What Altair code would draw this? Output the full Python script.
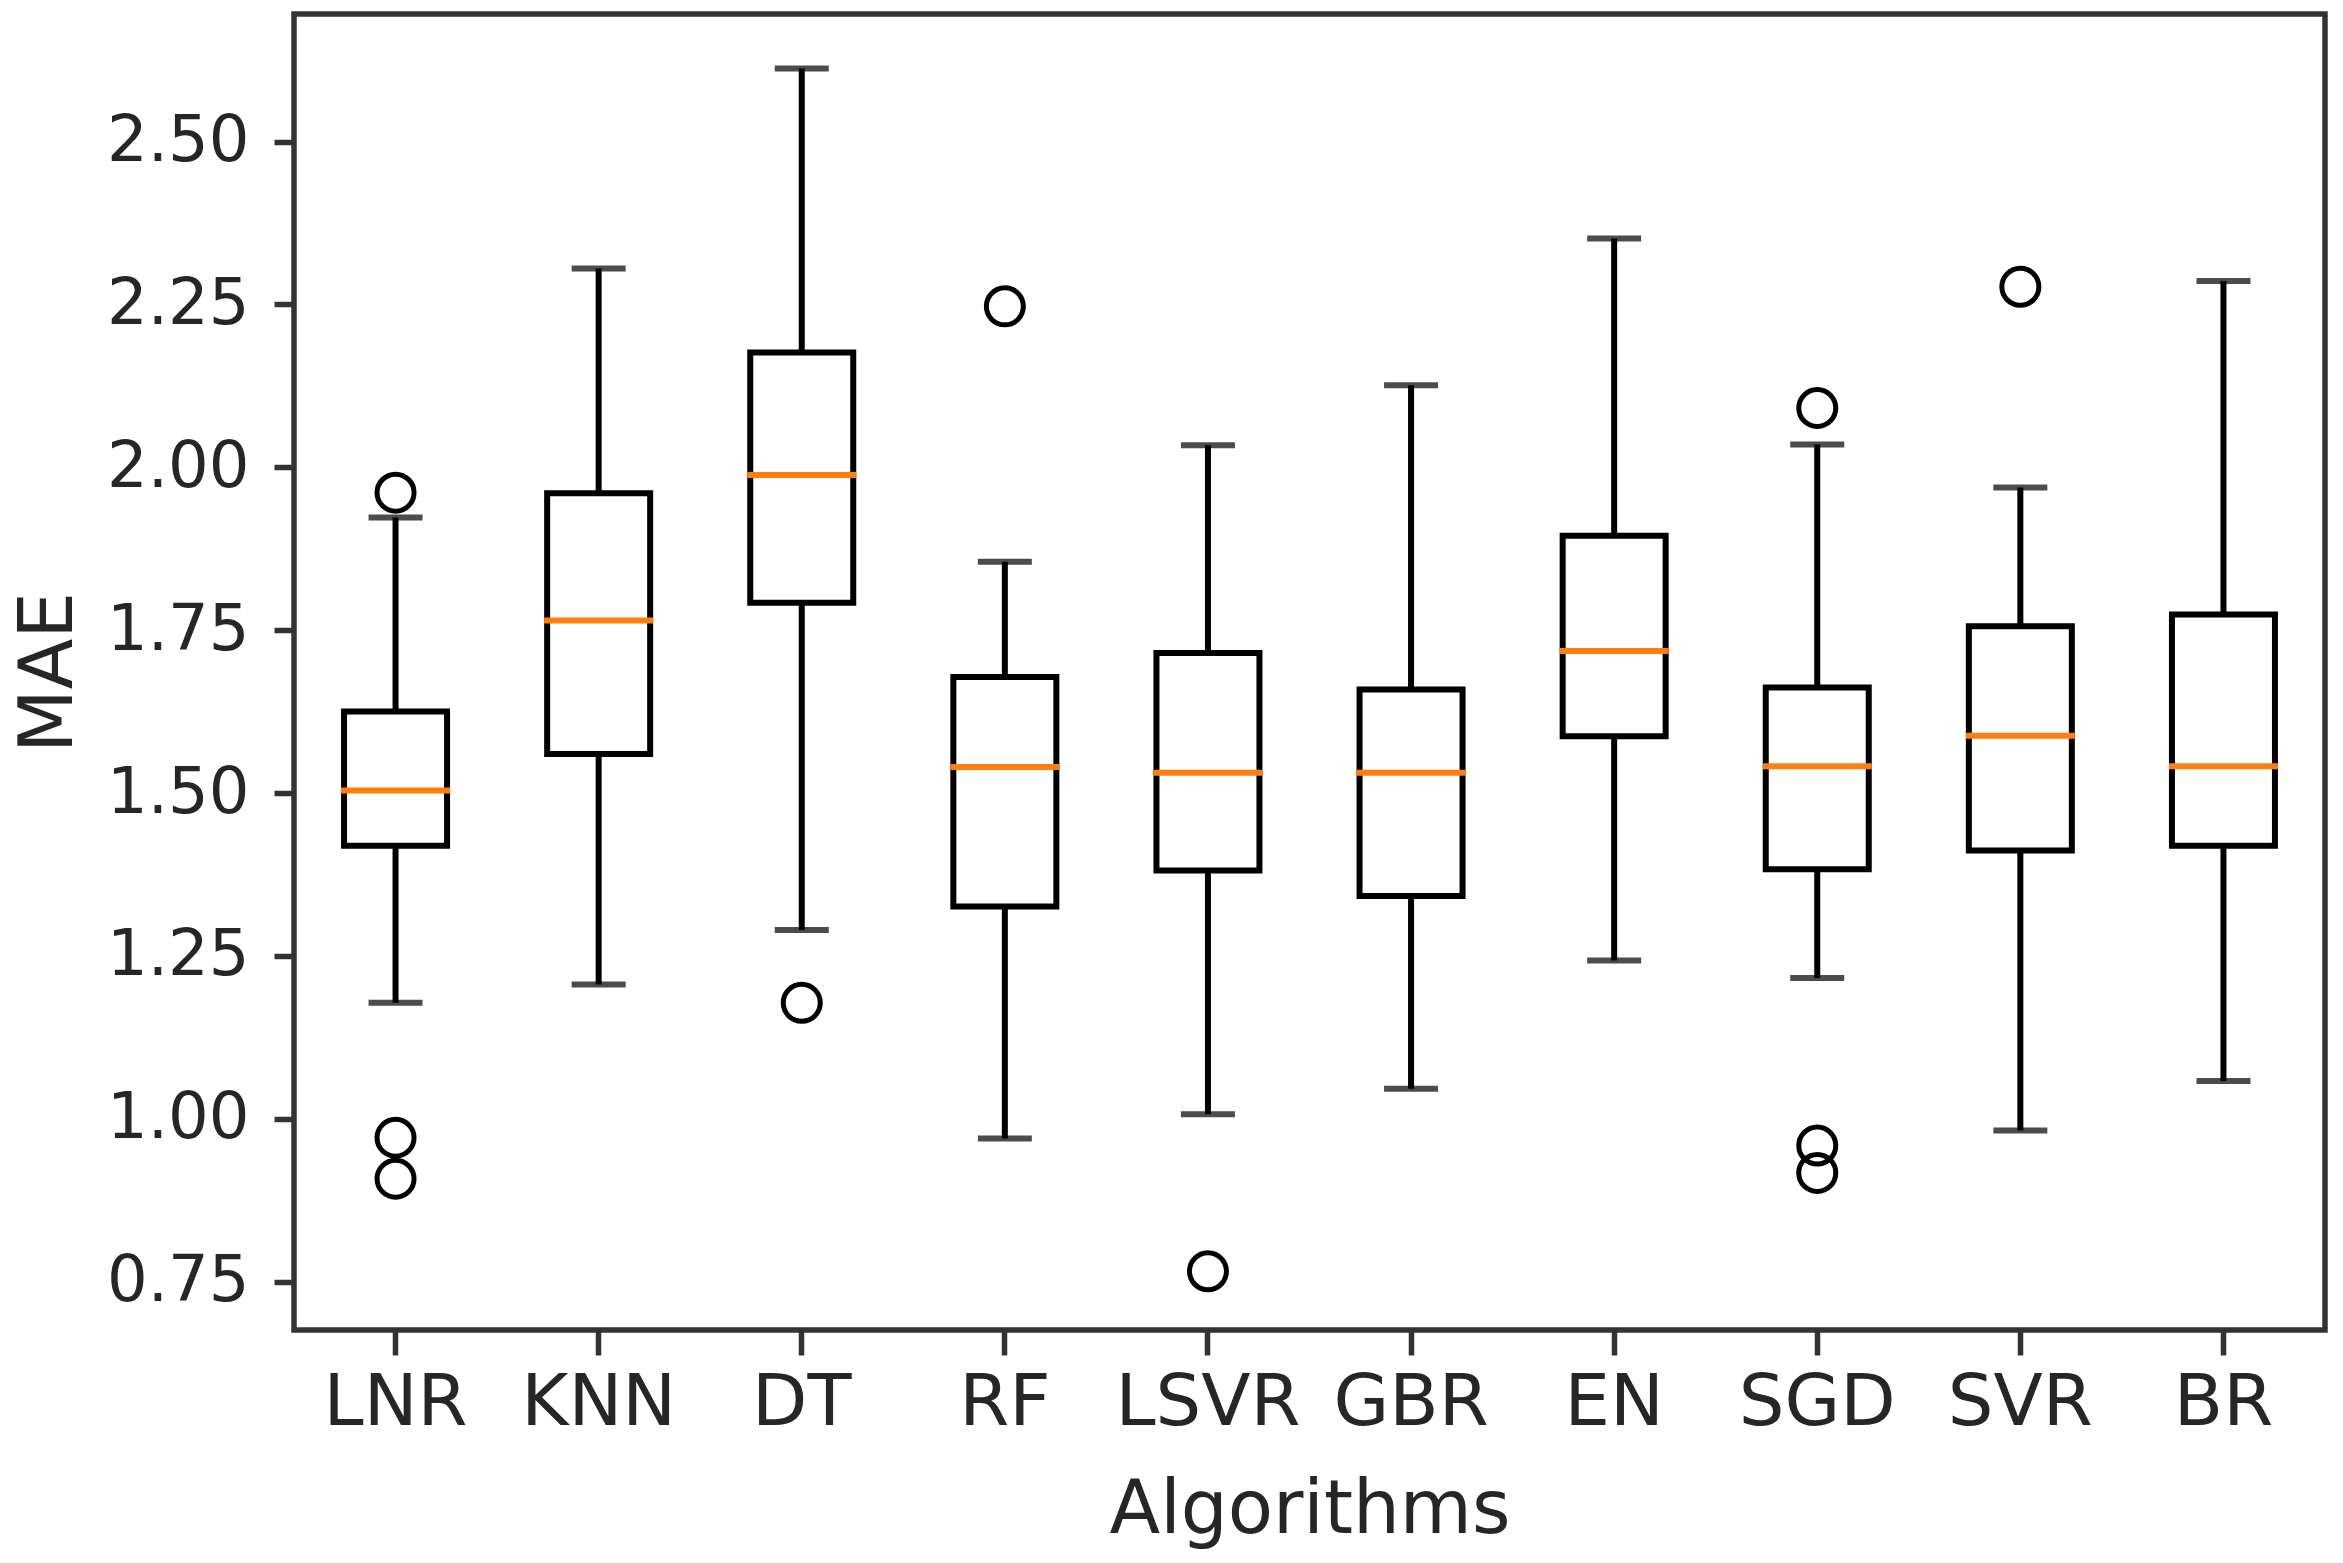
import altair as alt
import pandas as pd

names = ["LNR", "KNN", "DT", "RF", "LSVR", "GBR", "EN", "SGD", "SVR", "BR"]
whisker_low = [1.178, 1.206, 1.290, 0.970, 1.007, 1.046, 1.243, 1.216, 0.982, 1.058]
q1 = [1.419, 1.560, 1.792, 1.326, 1.381, 1.342, 1.587, 1.383, 1.412, 1.419]
median = [1.504, 1.765, 1.988, 1.540, 1.531, 1.531, 1.718, 1.541, 1.588, 1.541]
q3 = [1.625, 1.960, 2.176, 1.678, 1.715, 1.659, 1.895, 1.662, 1.756, 1.774]
whisker_high = [1.923, 2.305, 2.612, 1.855, 2.034, 2.126, 2.351, 2.035, 1.969, 2.286]

outlier_names = ["LNR", "LNR", "LNR", "DT", "RF", "LSVR", "SGD", "SGD", "SGD", "SVR"]
outlier_values = [1.961, 0.971, 0.908, 1.178, 2.247, 0.766, 2.091, 0.959, 0.917, 2.277]

y_ticks = [0.75, 1.00, 1.25, 1.50, 1.75, 2.00, 2.25, 2.50]

stats = pd.DataFrame({
    "alg": names, "lo": whisker_low, "q1": q1, "med": median,
    "q3": q3, "hi": whisker_high,
})
outs = pd.DataFrame({"alg": outlier_names, "val": outlier_values})

FONT = "DejaVu Sans"
TXT = "#262626"
AX = "#333333"

x_enc = alt.X(
    "alg:N",
    sort=names,
    scale=alt.Scale(type="band", domain=names, paddingInner=0, paddingOuter=0),
    axis=alt.Axis(
        title="Algorithms", labelAngle=0, labelFontSize=72, titleFontSize=74,
        labelFont=FONT, titleFont=FONT, labelColor=TXT, titleColor=TXT,
        titleFontWeight="normal", tickSize=25, tickWidth=5.5, tickColor=AX,
        labelPadding=12, titlePadding=36, domain=False, grid=False, labelLimit=0,
    ),
)
y_scale = alt.Scale(domain=[0.6759, 2.6957], nice=False, zero=False)
y_axis = alt.Axis(
    title="MAE", values=y_ticks, format=".2f", labelFontSize=64, titleFontSize=74,
    labelFont=FONT, titleFont=FONT, labelColor=TXT, titleColor=TXT,
    titleFontWeight="normal", tickSize=20, tickWidth=5.5, tickColor=AX,
    labelPadding=25, titlePadding=19, domain=False, grid=False,
)

base = alt.Chart(stats)

whisk = base.mark_rule(color="black", strokeWidth=6).encode(
    x=x_enc, y=alt.Y("lo:Q", scale=y_scale, axis=y_axis), y2="hi:Q"
)
box = base.mark_bar(size=103, fill="white", stroke="black", strokeWidth=6).encode(
    x=x_enc, y=alt.Y("q1:Q", scale=y_scale), y2="q3:Q"
)
cap_lo = base.mark_tick(size=54, thickness=6, color="black").encode(
    x=x_enc, y=alt.Y("lo:Q", scale=y_scale)
)
cap_hi = base.mark_tick(size=54, thickness=6, color="black").encode(
    x=x_enc, y=alt.Y("hi:Q", scale=y_scale)
)
med = base.mark_tick(size=109, thickness=6, color="#ff7f0e", opacity=1).encode(
    x=x_enc, y=alt.Y("med:Q", scale=y_scale)
)
pts = alt.Chart(outs).mark_point(
    shape="circle", size=1369, filled=False, color="black", strokeWidth=5, opacity=1
).encode(x=x_enc, y=alt.Y("val:Q", scale=y_scale))

chart = alt.layer(whisk, box, cap_lo, cap_hi, med, pts).properties(
    width=2031, height=1316,
    autosize=alt.AutoSizeParams(type="none"),
    padding={"left": 286, "top": 6, "right": 10, "bottom": 220},
    background="white",
).configure_view(stroke=AX, strokeWidth=5.5)

chart.save("out.html", embed_options={"renderer": "svg", "actions": False})
